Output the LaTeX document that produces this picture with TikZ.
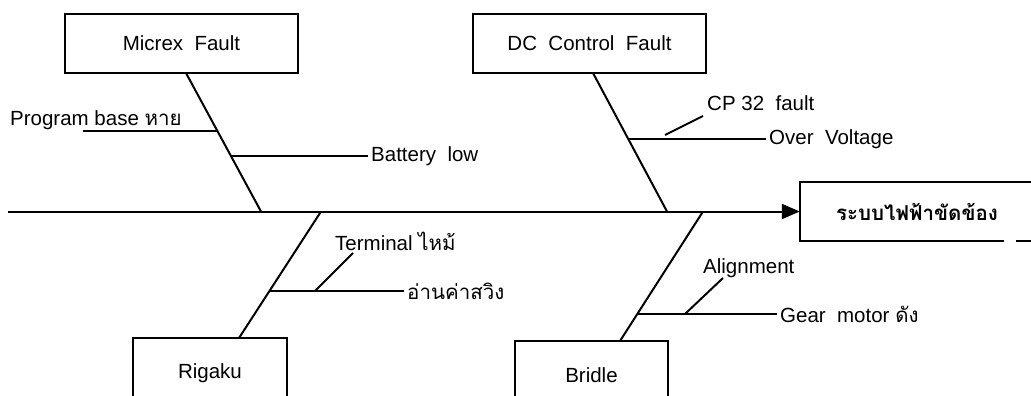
\documentclass[tikz,border=0pt]{standalone}
\usepackage{fontspec}
\setmainfont{Liberation Sans}
\newfontfamily\thaifont[Script=Thai]{Loma}
\usetikzlibrary{arrows.meta}
\begin{document}
\begin{tikzpicture}[x=1pt,y=-1pt,
  ln/.style={line width=2pt},
  catbox/.style={draw,line width=2pt,inner sep=0pt,font=\fontsize{20.5}{24}\selectfont},
  lbl/.style={inner sep=3pt,font=\fontsize{20.5}{24}\selectfont},
  lblb/.style={inner sep=0pt,anchor=base west,font=\fontsize{20.5}{24}\selectfont}]
\path[use as bounding box,clip] (0,0) rectangle (1031,396);
\fill[white] (0,0) rectangle (1031,396);
% category boxes
\node[catbox,minimum width=233pt,minimum height=59pt] (micrex) at (181.5,43.5) {Micrex\ \ Fault};
\node[catbox,minimum width=233pt,minimum height=59pt] (dc) at (589.5,43.5) {DC\ \ Control\ \ Fault};
\node[catbox,minimum width=154pt,minimum height=70pt] (rigaku) at (210,373) {Rigaku};
\node[catbox,minimum width=153pt,minimum height=68pt] (bridle) at (591.5,375) {Bridle};
% result
\node[inner sep=0pt,minimum width=234pt,minimum height=58pt,font=\fontsize{20.5}{24}\selectfont\thaifont\bfseries] (res) at (917,211.5) {ระบบไฟฟ้าขัดข้อง};
\draw[ln] (res.north east) -- (res.north west) -- (res.south west) -- ([xshift=204pt]res.south west);
\draw[ln] ([xshift=216pt]res.south west) -- (res.south east);
% spine
\coordinate (s0) at (8,211.5);
\draw[ln,-{Triangle[length=18pt,width=15pt]}] (s0) -- (res.west);
% Micrex branch
\coordinate (mT) at (186,73);
\coordinate (mS) at (261,211.5);
\draw[ln] (mT) -- (mS);
\node[lblb] (pb) at (10,125) {Program base {\thaifont หาย}};
\coordinate (pbL) at (83,131);
\coordinate (pbR) at (217.5,131);
\draw[ln] (pbL) -- (pbR);
\coordinate (blB) at (231,156);
\node[lbl,anchor=west] (bl) at (368,156) {Battery\ \ low};
\draw[ln] (blB) -- (bl.west);
% DC branch
\coordinate (dT) at (593,73);
\coordinate (dS) at (667,211.5);
\draw[ln] (dT) -- (dS);
\coordinate (ovB) at (628.4,139);
\node[lbl,anchor=west] (ov) at (766,139) {Over\ \ Voltage};
\draw[ln] (ovB) -- (ov.west);
\coordinate (cpA) at (665,135);
\coordinate (cpB) at (703,116);
\draw[ln] (cpA) -- (cpB);
\node[lbl,anchor=west] (cp) at (704,103) {CP 32\ \ fault};
% Rigaku branch
\coordinate (rS) at (321,211.5);
\coordinate (rT) at (239,338);
\draw[ln] (rS) -- (rT);
\coordinate (swB) at (269,291);
\node[lbl,anchor=west,font=\fontsize{20.5}{24}\selectfont\thaifont] (sw) at (404,291) {อ่านค่าสวิง};
\draw[ln] (swB) -- (sw.west);
\coordinate (tmA) at (315,291);
\coordinate (tmB) at (353,253);
\draw[ln] (tmA) -- (tmB);
\node[lblb] (tm) at (335,250) {Terminal {\thaifont ไหม้}};
% Bridle branch
\coordinate (bS) at (703,211.5);
\coordinate (bT) at (620,341);
\draw[ln] (bS) -- (bT);
\coordinate (gmB) at (637,314);
\node[lbl,anchor=west] (gm) at (777,314) {Gear\ \ motor {\thaifont ดัง}};
\draw[ln] (gmB) -- (gm.west);
\coordinate (alA) at (685,314);
\coordinate (alB) at (723,278);
\draw[ln] (alA) -- (alB);
\node[lblb] (al) at (703,273) {Alignment};
\end{tikzpicture}
\end{document}
